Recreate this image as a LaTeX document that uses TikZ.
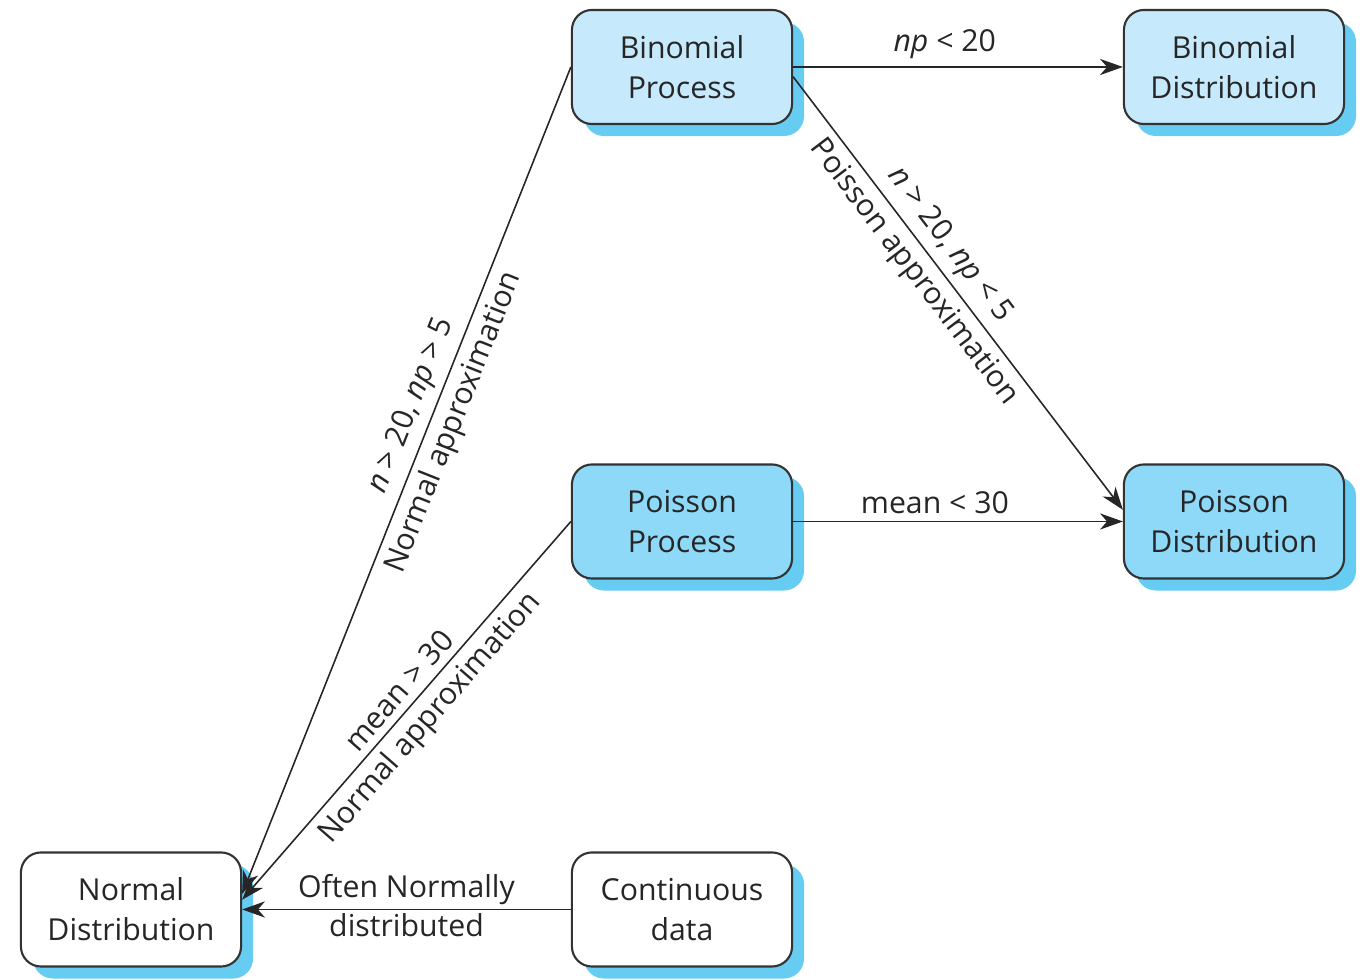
\documentclass[tikz,border=0pt]{standalone}
\usepackage{fontspec}
\setmainfont{Open Sans}
\usetikzlibrary{arrows.meta,shadows}

\definecolor{shadowblue}{HTML}{66CCF2}
\definecolor{binblue}{HTML}{C6E9FB}
\definecolor{poiblue}{HTML}{8ED8F8}

\begin{document}
\begin{tikzpicture}[x=0.01cm, y=-0.01cm,
    font=\fontsize{8.6}{11.4}\selectfont,
    box/.style={draw=black!80, line width=0.6pt, rounded corners=0.2cm,
      minimum width=2.2cm, minimum height=1.14cm, align=center, text=black!85,
      drop shadow={shadow xshift=0.12cm, shadow yshift=-0.12cm, fill=shadowblue, opacity=1}},
    arr/.style={draw=black!85, line width=0.45pt, -{Stealth[length=6.5pt, width=4.6pt, inset=2pt]}},
    lbl/.style={inner sep=2pt, text=black!85}]
     \useasboundingbox (0,0) rectangle (1365,980);

     \node[box, fill=binblue] (bp) at (682,67) {Binomial\\Process};
     \node[box, fill=binblue] (bd) at (1234,67) {Binomial\\Distribution};
     \node[box, fill=poiblue] (pp) at (682,521.5) {Poisson\\Process};
     \node[box, fill=poiblue] (pd) at (1234,521.5) {Poisson\\Distribution};
     \node[box, fill=white] (nd) at (131,909.5) {Normal\\Distribution};
     \node[box, fill=white] (cd) at (682,909.5) {Continuous\\data};

     \draw[arr] (bp.east) -- node[lbl, above, pos=0.46] {\textit{np} < 20} (bd.west);
     \draw[arr] (bp.-5) -- node[lbl, sloped, above, pos=0.42] {\textit{n} > 20, \textit{np} < 5}
                          node[lbl, sloped, below, pos=0.42] {Poisson approximation} (pd.174);
     \draw[arr] (pp.east) -- node[lbl, above, pos=0.43] {mean < 30} (pd.west);
     \draw[arr] (bp.west) -- node[lbl, sloped, above, pos=0.42] {\textit{n} > 20, \textit{np} > 5}
                          node[lbl, sloped, below, pos=0.42] {Normal approximation} (nd.8);
     \draw[arr] (pp.west) -- node[lbl, sloped, above, pos=0.48] {mean > 30}
                          node[lbl, sloped, below, pos=0.48] {Normal approximation} (nd.5);
     \draw[arr] (cd.west) -- node[lbl, above, inner sep=1pt] {Often Normally}
                          node[lbl, below, inner sep=1pt] {distributed} (nd.east);
\end{tikzpicture}
\end{document}
